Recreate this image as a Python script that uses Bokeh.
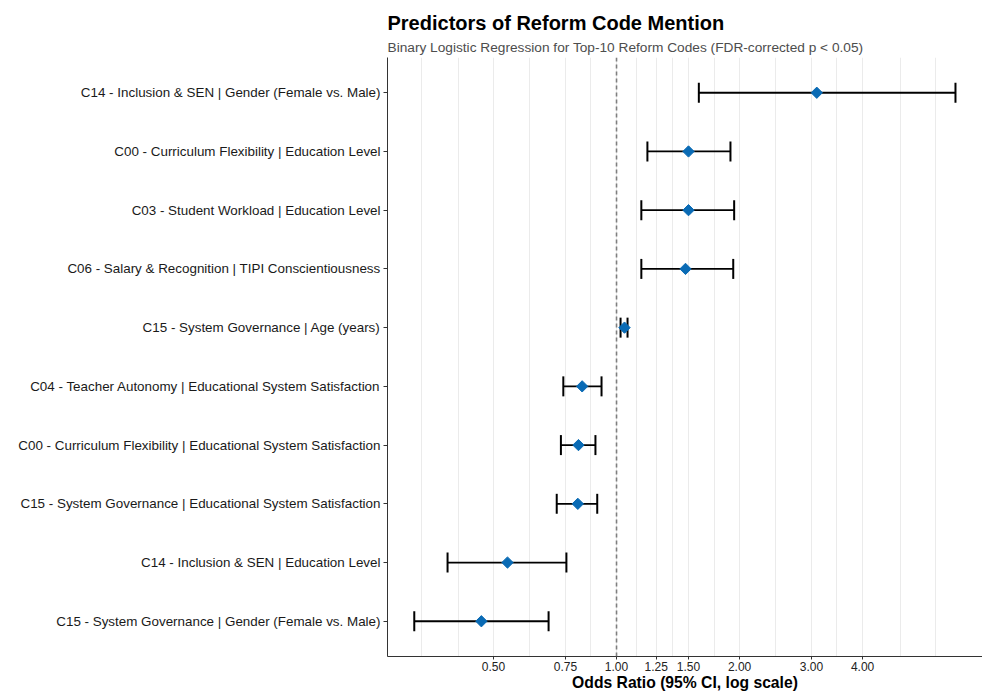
import math
from bokeh.plotting import figure
from bokeh.models import (ColumnDataSource, FactorRange, Range1d, FixedTicker,
                          NumeralTickFormatter, Span, Title)
from bokeh.embed import file_html
from bokeh.resources import INLINE

# ---- data ----
labels = [
    "C14 - Inclusion & SEN | Gender (Female vs. Male)",
    "C00 - Curriculum Flexibility | Education Level",
    "C03 - Student Workload | Education Level",
    "C06 - Salary & Recognition | TIPI Conscientiousness",
    "C15 - System Governance | Age (years)",
    "C04 - Teacher Autonomy | Educational System Satisfaction",
    "C00 - Curriculum Flexibility | Educational System Satisfaction",
    "C15 - System Governance | Educational System Satisfaction",
    "C14 - Inclusion & SEN | Education Level",
    "C15 - System Governance | Gender (Female vs. Male)",
]
odds_ratio = [3.09, 1.50, 1.50, 1.475, 1.046, 0.824, 0.807, 0.804, 0.541, 0.467]
ci_low = [1.59, 1.19, 1.15, 1.15, 1.023, 0.741, 0.731, 0.714, 0.386, 0.320]
ci_high = [6.75, 1.90, 1.94, 1.93, 1.064, 0.919, 0.888, 0.897, 0.754, 0.682]

major_ticks = [0.50, 0.75, 1.00, 1.25, 1.50, 2.00, 3.00, 4.00]
minor_grid = [0.333, 0.41, 0.612, 0.866, 1.118, 1.369, 1.732, 2.449, 3.46, 4.95, 6.04]

FONT = "Liberation Sans"

src = ColumnDataSource(dict(y=labels, orr=odds_ratio, lo=ci_low, hi=ci_high))

p = figure(
    width=982, height=693,
    x_axis_type="log",
    x_range=Range1d(0.2752, 7.86),
    y_range=FactorRange(factors=labels[::-1], range_padding=0.02),
    output_backend="svg", toolbar_location=None, title=None,
    min_border_left=387, min_border_right=0, min_border_top=57, min_border_bottom=0,
)
p.background_fill_color = "white"
p.border_fill_color = "white"
p.outline_line_color = None

# titles
sub = Title(text="Binary Logistic Regression for Top-10 Reform Codes (FDR-corrected p < 0.05)",
            text_font=FONT, text_font_size="13.7px", text_font_style="normal",
            text_color="#4D4D4D", align="left", standoff=5)
main = Title(text="Predictors of Reform Code Mention",
             text_font=FONT, text_font_size="20px", text_font_style="bold",
             text_color="black", align="left", standoff=3)
p.add_layout(sub, "above")
p.add_layout(main, "above")

# grid
p.ygrid.grid_line_color = None
p.xgrid.ticker = FixedTicker(ticks=sorted(major_ticks + minor_grid))
p.xgrid.grid_line_color = "#EBEBEB"
p.xgrid.grid_line_width = 1

# axes
xa = p.xaxis[0]
xa.ticker = FixedTicker(ticks=major_ticks, minor_ticks=[])
xa.formatter = NumeralTickFormatter(format="0.00")
xa.axis_label = "Odds Ratio (95% CI, log scale)"
xa.axis_label_text_font = FONT
xa.axis_label_text_font_size = "15.7px"
xa.axis_label_text_font_style = "bold"
xa.axis_label_text_color = "black"
xa.axis_label_standoff = 0
xa.major_label_text_font = FONT
xa.major_label_text_font_size = "12px"
xa.major_label_text_color = "#222222"
xa.major_label_standoff = 2
xa.major_tick_in = 0
xa.major_tick_out = 3
xa.minor_tick_in = 0
xa.minor_tick_out = 0
xa.axis_line_color = "#333333"
xa.major_tick_line_color = "#333333"

ya = p.yaxis[0]
ya.major_label_text_font = FONT
ya.major_label_text_font_size = "13.4px"
ya.major_label_text_color = "#1A1A1A"
ya.major_label_standoff = 3
ya.major_tick_in = 0
ya.major_tick_out = 4
ya.axis_line_color = "#333333"
ya.major_tick_line_color = "#333333"

# reference line at OR = 1
p.add_layout(Span(location=1.0, dimension="height", line_color="#7F7F7F",
                  line_width=1.6, line_dash="4 3"))

# error bars
p.segment(x0="lo", y0="y", x1="hi", y1="y", source=src, line_color="black", line_width=1.8)
p.scatter(x="lo", y="y", source=src, marker="dash", angle=math.pi / 2, size=20,
          line_color="black", line_width=2)
p.scatter(x="hi", y="y", source=src, marker="dash", angle=math.pi / 2, size=20,
          line_color="black", line_width=2)

# points
p.scatter(x="orr", y="y", source=src, marker="square", angle=math.pi / 4, size=8,
          fill_color="#0A6BB5", line_color="#0A6BB5", line_width=1)

open("out.html", "w").write(file_html(p, INLINE))
